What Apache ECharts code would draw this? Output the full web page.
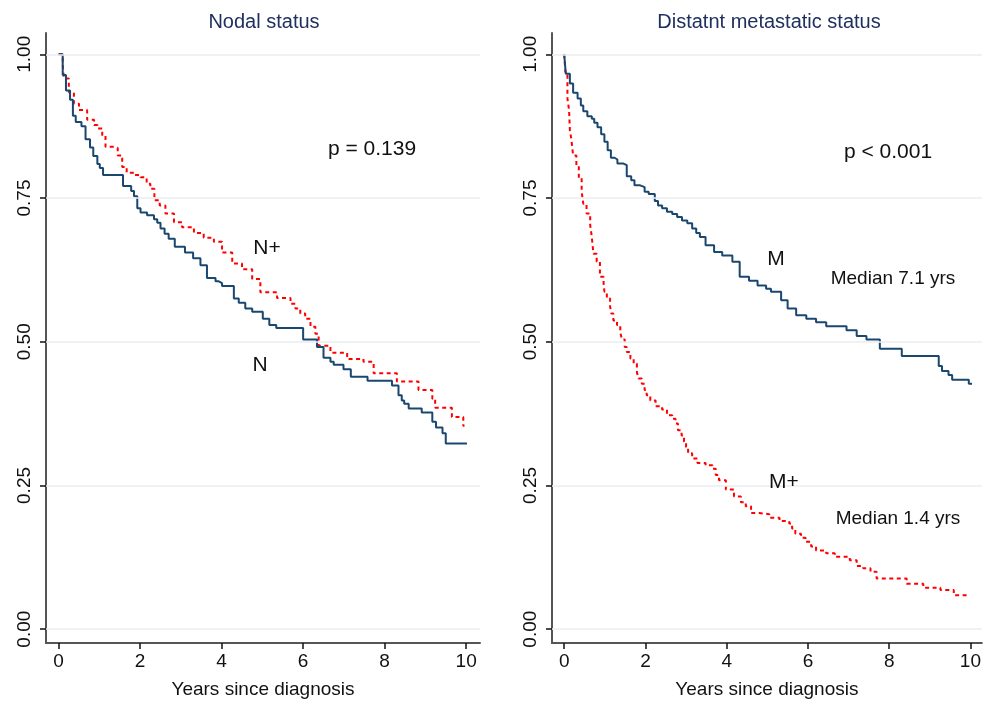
<!DOCTYPE html>
<html>
<head>
<meta charset="utf-8">
<script src="https://cdn.jsdelivr.net/npm/echarts@6/dist/echarts.min.js"></script>
<style>
  html, body { margin: 0; padding: 0; background: #fff; }
  #chart { width: 984px; height: 708px; }
</style>
</head>
<body>
<div id="chart"></div>
<script>
// Nodal status, N (no nodes)
const nTimes = [0, 0.1, 0.18, 0.28, 0.35, 0.42, 0.56, 0.66, 0.77, 0.85, 0.95, 1.01, 1.09, 1.58, 1.78, 1.85, 1.93, 2.01, 2.17, 2.34, 2.42, 2.5, 2.6, 2.7, 2.85, 3.1, 3.3, 3.48, 3.64, 3.85, 3.93, 4.01, 4.3, 4.42, 4.58, 4.75, 5.01, 5.17, 5.34, 6.0, 6.34, 6.5, 6.67, 6.75, 6.99, 7.17, 7.58, 8.18, 8.34, 8.42, 8.48, 8.59, 8.91, 9.17, 9.26, 9.42, 9.5, 10.02]
const nSurv = [1, 0.964, 0.937, 0.921, 0.893, 0.882, 0.875, 0.852, 0.838, 0.823, 0.809, 0.802, 0.79, 0.771, 0.762, 0.753, 0.732, 0.725, 0.72, 0.713, 0.707, 0.697, 0.688, 0.679, 0.665, 0.655, 0.645, 0.633, 0.611, 0.605, 0.602, 0.597, 0.575, 0.568, 0.558, 0.552, 0.54, 0.529, 0.524, 0.504, 0.491, 0.472, 0.465, 0.46, 0.452, 0.439, 0.432, 0.424, 0.407, 0.398, 0.392, 0.384, 0.377, 0.361, 0.351, 0.341, 0.323, 0.323]

// Nodal status, N+
const npTimes = [0, 0.1, 0.13, 0.25, 0.375, 0.5, 0.7, 0.87, 0.95, 1.07, 1.15, 1.36, 1.45, 1.56, 1.67, 1.85, 2.01, 2.16, 2.25, 2.35, 2.48, 2.62, 2.83, 3.03, 3.32, 3.56, 3.81, 4.01, 4.26, 4.5, 4.75, 4.95, 5.36, 5.69, 5.81, 5.93, 6.05, 6.18, 6.3, 6.38, 6.67, 7.08, 7.48, 7.73, 8.3, 8.83, 9.17, 9.24, 9.65, 9.93, 9.96]
const npSurv = [1, 0.981, 0.958, 0.934, 0.914, 0.903, 0.886, 0.877, 0.871, 0.859, 0.839, 0.837, 0.824, 0.804, 0.794, 0.79, 0.786, 0.775, 0.766, 0.746, 0.737, 0.723, 0.708, 0.699, 0.689, 0.681, 0.674, 0.655, 0.636, 0.626, 0.609, 0.586, 0.576, 0.566, 0.558, 0.549, 0.54, 0.526, 0.514, 0.493, 0.481, 0.47, 0.465, 0.445, 0.431, 0.416, 0.401, 0.385, 0.369, 0.354, 0.354]

// Distant metastatic status, M
const mTimes = [0, 0.04, 0.14, 0.22, 0.33, 0.41, 0.47, 0.57, 0.68, 0.74, 0.82, 0.91, 0.99, 1.07, 1.15, 1.24, 1.31, 1.46, 1.54, 1.65, 1.73, 1.87, 1.98, 2.08, 2.23, 2.31, 2.41, 2.53, 2.66, 2.78, 2.9, 3.03, 3.15, 3.25, 3.34, 3.48, 3.69, 3.89, 4.14, 4.32, 4.55, 4.76, 4.97, 5.09, 5.34, 5.5, 5.71, 5.96, 6.2, 6.45, 6.95, 7.2, 7.44, 7.77, 8.31, 9.22, 9.3, 9.46, 9.55, 9.96, 10.04]
const mSurv = [1, 0.966, 0.949, 0.933, 0.923, 0.911, 0.901, 0.892, 0.888, 0.881, 0.873, 0.861, 0.848, 0.833, 0.82, 0.817, 0.81, 0.807, 0.788, 0.781, 0.772, 0.769, 0.761, 0.757, 0.745, 0.737, 0.732, 0.726, 0.722, 0.717, 0.711, 0.706, 0.697, 0.689, 0.682, 0.668, 0.656, 0.65, 0.639, 0.613, 0.606, 0.598, 0.592, 0.587, 0.572, 0.558, 0.546, 0.54, 0.534, 0.527, 0.52, 0.51, 0.504, 0.488, 0.475, 0.458, 0.449, 0.442, 0.434, 0.427, 0.427]

// Distant metastatic status, M+
const mpTimes = [0, 0.03, 0.08, 0.12, 0.14, 0.18, 0.22, 0.3, 0.36, 0.43, 0.47, 0.55, 0.64, 0.68, 0.72, 0.8, 0.88, 0.97, 0.99, 1.05, 1.13, 1.16, 1.21, 1.3, 1.38, 1.42, 1.49, 1.54, 1.63, 1.71, 1.79, 1.83, 1.91, 1.98, 2.03, 2.12, 2.25, 2.41, 2.53, 2.66, 2.74, 2.8, 2.89, 2.95, 3.0, 3.05, 3.15, 3.28, 3.48, 3.65, 3.73, 3.81, 3.98, 4.18, 4.35, 4.47, 4.6, 4.8, 5.05, 5.3, 5.54, 5.61, 5.69, 5.83, 5.94, 6.08, 6.2, 6.45, 6.66, 7.03, 7.2, 7.36, 7.54, 7.69, 8.43, 8.84, 9.26, 9.59, 9.92]
const mpSurv = [1, 0.969, 0.923, 0.903, 0.868, 0.85, 0.824, 0.807, 0.784, 0.761, 0.74, 0.723, 0.703, 0.682, 0.653, 0.639, 0.613, 0.601, 0.587, 0.575, 0.561, 0.549, 0.537, 0.529, 0.517, 0.504, 0.491, 0.482, 0.471, 0.462, 0.447, 0.436, 0.427, 0.416, 0.407, 0.398, 0.388, 0.382, 0.372, 0.366, 0.358, 0.346, 0.337, 0.326, 0.317, 0.306, 0.297, 0.289, 0.285, 0.279, 0.268, 0.259, 0.243, 0.231, 0.221, 0.214, 0.202, 0.2, 0.194, 0.188, 0.184, 0.175, 0.166, 0.159, 0.152, 0.144, 0.137, 0.132, 0.126, 0.12, 0.11, 0.106, 0.1, 0.088, 0.079, 0.072, 0.068, 0.059, 0.059]

const xTicks = [0, 2, 4, 6, 8, 10]
const yTicks = [0, 0.25, 0.5, 0.75, 1]

const FONT = "Liberation Sans, Arial, Helvetica, sans-serif"
const NAVY = "#1a476f"
const RED = "#ff0000"

const pairs = (t, s) => t.map((v, i) => [v, s[i]])

const chart = echarts.init(document.getElementById("chart"), null, { renderer: "canvas" })

function xAxisFor(gridIndex, min, max) {
  return {
    type: "value",
    gridIndex: gridIndex,
    min: min,
    max: max,
    name: "Years since diagnosis",
    nameLocation: "middle",
    nameGap: 37,
    nameTextStyle: { fontFamily: FONT, fontSize: 19, color: "#111" },
    axisLine: { show: true, onZero: false, lineStyle: { color: "#555", width: 2 } },
    axisTick: { show: true, customValues: xTicks, length: 6, lineStyle: { color: "#111", width: 1.5 } },
    axisLabel: { customValues: xTicks, fontFamily: FONT, fontSize: 19, color: "#111", margin: 9 },
    splitLine: { show: false },
  }
}

function yAxisFor(gridIndex) {
  return {
    type: "value",
    gridIndex: gridIndex,
    min: -0.024,
    max: 1.037,
    axisLine: { show: true, onZero: false, lineStyle: { color: "#555", width: 2 } },
    axisTick: { show: true, customValues: yTicks, length: 6, lineStyle: { color: "#111", width: 1.5 } },
    axisLabel: {
      customValues: yTicks,
      rotate: 90,
      fontFamily: FONT,
      fontSize: 19,
      color: "#111",
      margin: 12,
      formatter: (v) => v.toFixed(2),
    },
    splitLine: { show: false },
  }
}

function gridLines(xi, yi) {
  return {
    type: "line",
    xAxisIndex: xi,
    yAxisIndex: yi,
    data: [],
    z: 1,
    silent: true,
    markLine: {
      silent: true,
      symbol: "none",
      label: { show: false },
      lineStyle: { color: "#e8eef2", width: 1.5, type: "solid" },
      data: yTicks.map((v) => ({ yAxis: v })),
    },
  }
}

function kmSeries(xi, yi, t, s, color, dashed) {
  return {
    type: "line",
    xAxisIndex: xi,
    yAxisIndex: yi,
    step: "end",
    showSymbol: false,
    z: 3,
    data: pairs(t, s),
    lineStyle: { color: color, width: 2, type: dashed ? [4, 3.5] : "solid" },
  }
}

function txt(x, y, text, size, color) {
  return {
    type: "text",
    x: x,
    y: y,
    z: 10,
    style: {
      text: text,
      font: size + "px " + FONT,
      fill: color || "#111",
      align: "center",
      verticalAlign: "middle",
    },
  }
}

const option = {
  animation: false,
  backgroundColor: "#fff",
  grid: [
    { left: 46, right: 504, top: 33, bottom: 65 },
    { left: 552, right: 0, top: 33, bottom: 65 },
  ],
  xAxis: [xAxisFor(0, -0.31, 10.34), xAxisFor(1, -0.3, 10.28)],
  yAxis: [yAxisFor(0), yAxisFor(1)],
  series: [
    gridLines(0, 0),
    gridLines(1, 1),
    kmSeries(0, 0, npTimes, npSurv, RED, true),
    kmSeries(0, 0, nTimes, nSurv, NAVY, false),
    kmSeries(1, 1, mpTimes, mpSurv, RED, true),
    kmSeries(1, 1, mTimes, mSurv, NAVY, false),
  ],
  graphic: [
    txt(264, 22, "Nodal status", 20, "#1f3060"),
    txt(769, 22, "Distatnt metastatic status", 20, "#1f3060"),
    txt(372, 149, "p = 0.139", 21),
    txt(267, 248, "N+", 21),
    txt(260, 365, "N", 21),
    txt(888, 152, "p < 0.001", 21),
    txt(776, 259, "M", 21),
    txt(893, 279, "Median 7.1 yrs", 19),
    txt(784, 482, "M+", 21),
    txt(898, 519, "Median 1.4 yrs", 19),
  ],
}

chart.setOption(option)
</script>
</body>
</html>
